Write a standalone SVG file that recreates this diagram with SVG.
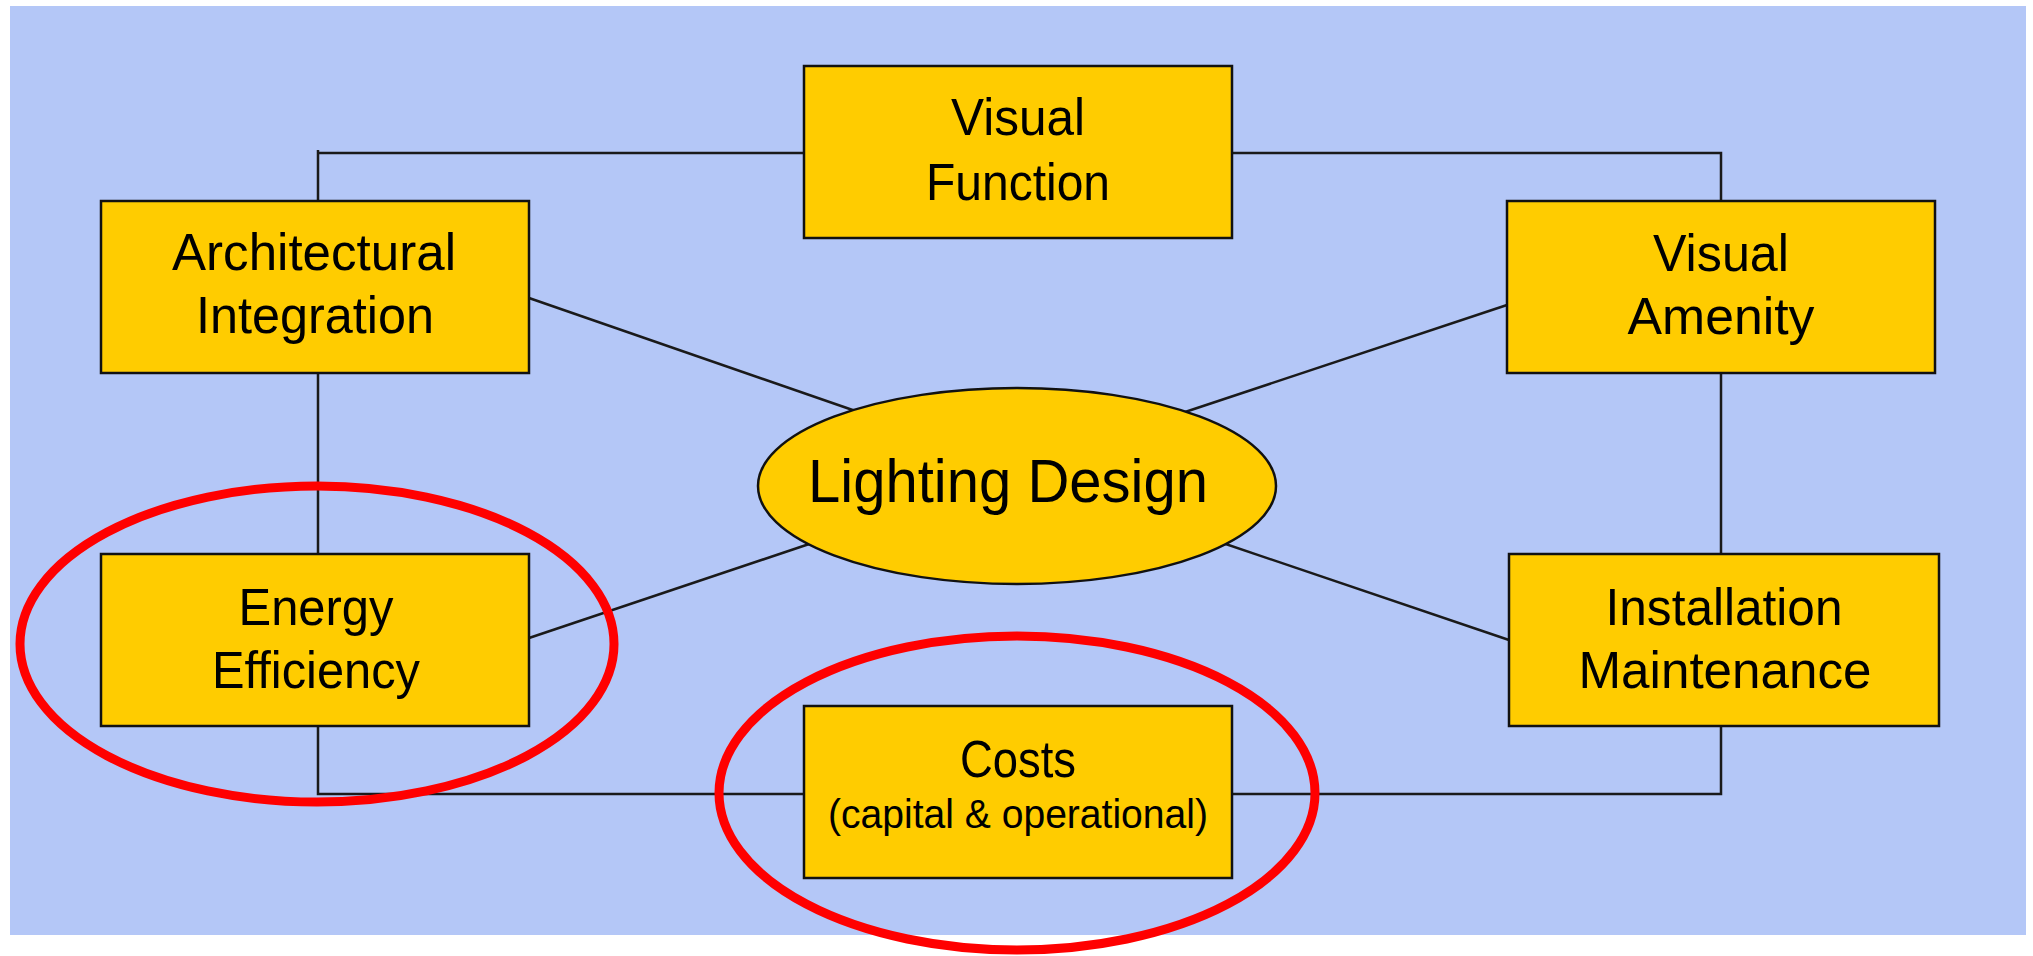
<svg xmlns="http://www.w3.org/2000/svg" width="2033" height="956" viewBox="0 0 2033 956">
<style>
.box{fill:#FFCC00;stroke:#111;stroke-width:2.5}
.lbl{font-family:"Liberation Sans",Arial,sans-serif;font-size:52px;fill:#000;text-anchor:middle}
.con{stroke:#1a1a1a;stroke-width:2.5;fill:none}
.mark{fill:none;stroke:#FF0000;stroke-width:9}
</style>
<rect x="0" y="0" width="2033" height="956" fill="#FFFFFF"/>
<rect x="10" y="6" width="2016" height="929" fill="#B4C7F7"/>
<g id="connectors">
<polyline class="con" points="318,150 318,153 1721,153 1721,794 318,794 318,153"/>
<line class="con" x1="529" y1="298" x2="870" y2="416"/>
<line class="con" x1="1507" y1="305" x2="1170" y2="417"/>
<line class="con" x1="529" y1="638" x2="830" y2="537"/>
<line class="con" x1="1509" y1="640" x2="1205" y2="537"/>
</g>
<g id="visual-function">
<rect class="box" x="804" y="66" width="428" height="172"/>
<text class="lbl" x="1018" y="135" textLength="134" lengthAdjust="spacingAndGlyphs">Visual</text>
<text class="lbl" x="1018" y="200" textLength="184" lengthAdjust="spacingAndGlyphs">Function</text>
</g>
<g id="architectural-integration">
<rect class="box" x="101" y="201" width="428" height="172"/>
<text class="lbl" x="314" y="270" textLength="284" lengthAdjust="spacingAndGlyphs">Architectural</text>
<text class="lbl" x="315" y="333" textLength="238" lengthAdjust="spacingAndGlyphs">Integration</text>
</g>
<g id="visual-amenity">
<rect class="box" x="1507" y="201" width="428" height="172"/>
<text class="lbl" x="1721" y="271" textLength="136" lengthAdjust="spacingAndGlyphs">Visual</text>
<text class="lbl" x="1721" y="334" textLength="187" lengthAdjust="spacingAndGlyphs">Amenity</text>
</g>
<g id="lighting-design">
<ellipse cx="1017" cy="486" rx="259" ry="98" fill="#FFCC00" stroke="#111" stroke-width="2.5"/>
<text class="lbl" x="1008" y="502" style="font-size:62px" textLength="400" lengthAdjust="spacingAndGlyphs">Lighting Design</text>
</g>
<g id="energy-efficiency">
<rect class="box" x="101" y="554" width="428" height="172"/>
<text class="lbl" x="316" y="625" textLength="155" lengthAdjust="spacingAndGlyphs">Energy</text>
<text class="lbl" x="316" y="688" textLength="208" lengthAdjust="spacingAndGlyphs">Efficiency</text>
</g>
<g id="installation-maintenance">
<rect class="box" x="1509" y="554" width="430" height="172"/>
<text class="lbl" x="1724" y="625" textLength="237" lengthAdjust="spacingAndGlyphs">Installation</text>
<text class="lbl" x="1725" y="688" textLength="293" lengthAdjust="spacingAndGlyphs">Maintenance</text>
</g>
<g id="costs">
<rect class="box" x="804" y="706" width="428" height="172"/>
<text class="lbl" x="1018" y="777" textLength="116" lengthAdjust="spacingAndGlyphs">Costs</text>
<text class="lbl" x="1018" y="828" style="font-size:41px" textLength="380" lengthAdjust="spacingAndGlyphs">(capital &amp; operational)</text>
</g>
<g id="highlights">
<ellipse class="mark" cx="317" cy="644" rx="297" ry="158"/>
<ellipse class="mark" cx="1017" cy="793" rx="298" ry="157"/>
</g>
</svg>
